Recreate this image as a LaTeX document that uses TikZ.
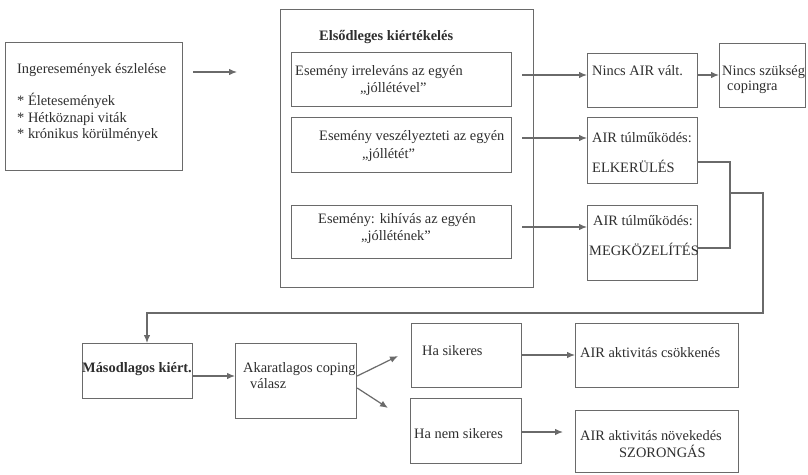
\documentclass[tikz,border=0pt]{standalone}
\usepackage{fontspec}
\setmainfont{Liberation Serif}
\usetikzlibrary{arrows.meta}
\definecolor{linegray}{HTML}{6A6A6A}
\definecolor{inkgray}{HTML}{2E2E2E}
\begin{document}
\begin{tikzpicture}[x=1pt,y=-1pt,
  box/.style={draw=linegray,line width=1.2pt,inner sep=0pt},
  txt/.style={text=inkgray,inner sep=0pt,anchor=base west,font=\fontsize{14.4}{16}\selectfont},
  btxt/.style={txt,font=\fontsize{14.4}{16}\selectfont\bfseries},
  conn/.style={draw=linegray,line width=1.2pt},
  arr/.style={conn,-{Latex[length=8pt,width=6.5pt]}}]
\useasboundingbox (0,0) rectangle (808,474);
\fill[white] (0,0) rectangle (808,474);

% boxes
\newcommand{\boxat}[5]{\node[box,anchor=north west,minimum width=#4-#2,minimum height=#5-#3] (#1) at (#2,#3) {};}
\boxat{inp}{5}{42}{182}{170}
\boxat{prim}{280}{9}{533}{287}
\boxat{ev1}{291}{52}{511}{106}
\boxat{ev2}{291}{117}{511}{172}
\boxat{ev3}{291}{205}{511}{258}
\boxat{noair}{587}{53}{697}{107}
\boxat{nocop}{719}{43}{805}{107}
\boxat{avoid}{587}{117}{697}{183}
\boxat{appr}{587}{205}{697}{280}
\boxat{sec}{82}{343}{192}{398}
\boxat{resp}{235}{343}{356}{418}
\boxat{succ}{411}{323}{521}{387}
\boxat{fail}{410}{398}{521}{463}
\boxat{decr}{575}{323}{738}{387}
\boxat{incr}{575}{410}{738}{472}

% texts
\node[txt] (tinp) at (17,73) {Ingeresemények észlelése};
\node[txt] (tb1) at (17,105) {* Életesemények};
\node[txt] (tb2) at (17,122) {* Hétköznapi viták};
\node[txt] (tb3) at (17,138) {* krónikus körülmények};
\node[btxt] (tprim) at (319,40) {Elsődleges kiértékelés};
\node[txt] (te1a) at (295,75) {Esemény irreleváns az egyén};
\node[txt] (te1b) at (360,92) {„jóllétével”};
\node[txt] (te2a) at (319,140) {Esemény veszélyezteti az egyén};
\node[txt] (te2b) at (362,158) {„jóllétét”};
\node[txt] (te3a) at (318,223) {Esemény: kihívás az egyén};
\node[txt] (te3b) at (361,240) {„jóllétének”};
\node[txt] (tnoair) at (592,75) {Nincs AIR vált.};
\node[txt] (tnocopa) at (722,75) {Nincs szükség};
\node[txt] (tnocopb) at (727,90) {copingra};
\node[txt] (tav1) at (592,142) {AIR túlműködés:};
\node[txt] (tav2) at (592,172) {ELKERÜLÉS};
\node[txt] (tap1) at (593,225) {AIR túlműködés:};
\node[txt] (tap2) at (589,255) {MEGKÖZELÍTÉS};
\node[btxt] (tsec) at (82,372) {Másodlagos kiért.};
\node[txt] (tresa) at (243,372) {Akaratlagos coping};
\node[txt] (tresb) at (250,388) {válasz};
\node[txt] (tsucc) at (422,355) {Ha sikeres};
\node[txt] (tdecr) at (580,357) {AIR aktivitás csökkenés};
\node[txt] (tfail) at (414,438) {Ha nem sikeres};
\node[txt] (tincra) at (580,440) {AIR aktivitás növekedés};
\node[txt] (tincrb) at (619,457) {SZORONGÁS};

% free connector ends
\coordinate (inpout) at (193,72);
\coordinate (primin) at (237,72);
\coordinate (e1out) at (522,75);
\coordinate (e2out) at (522,138);
\coordinate (e3out) at (522,227);
\coordinate (brk) at (730,193);
\coordinate (secin) at (147,343);

% connectors
\draw[arr] (inpout) -- (primin);
\draw[arr] (e1out) -- (noair.west |- e1out);
\draw[arr] (e2out) -- (avoid.west |- e2out);
\draw[arr] (e3out) -- (appr.west |- e3out);
\draw[arr] (noair.east |- 0,75) -- (nocop.west |- 0,75);
\draw[conn] (avoid.east |- 0,162) -| (brk) |- (appr.east |- 0,248);
\draw[arr] (brk) -- (763,193) -- (763,313) -| (sec.north -| secin);
\draw[arr] (sec.east |- 0,376) -- (resp.west |- 0,376);
\draw[arr] (resp.east |- 0,376) -- (398,356);
\draw[arr] (resp.east |- 0,388) -- (388,408);
\draw[arr] (succ.east |- 0,355) -- (decr.west |- 0,355);
\draw[arr] (fail.east |- 0,432) -- (563,432);
\end{tikzpicture}
\end{document}
